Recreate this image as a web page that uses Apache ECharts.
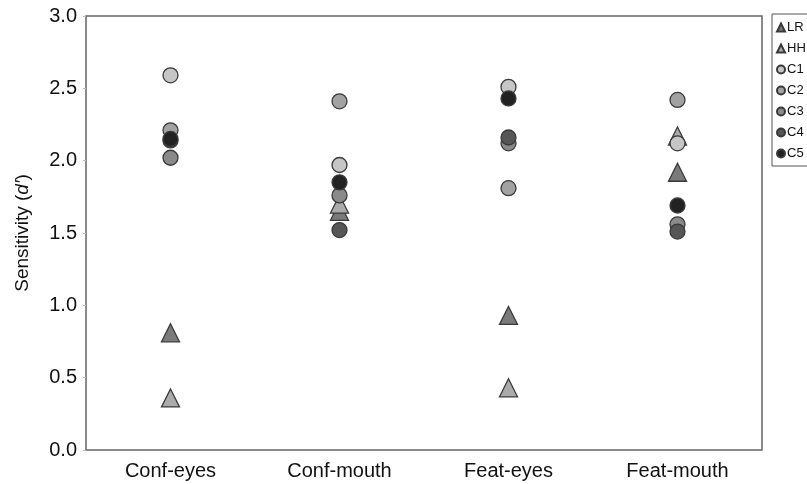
<!DOCTYPE html>
<html><head><meta charset="utf-8">
<script src="https://cdn.jsdelivr.net/npm/echarts@6/dist/echarts.min.js"></script>
<style>html,body{margin:0;padding:0;background:#fff}#c{width:807px;height:484px}</style>
</head><body><div id="c"></div>
<script>
const categories = ['Conf-eyes', 'Conf-mouth', 'Feat-eyes', 'Feat-mouth'];
const yTicks = [0, 0.5, 1.0, 1.5, 2.0, 2.5, 3.0];
const LR = [0.81, 1.65, 0.93, 1.92];
const HH = [0.36, 1.70, 0.43, 2.17];
const C1 = [2.59, 1.97, 2.51, 2.12];
const C2 = [2.21, 2.41, 1.81, 2.42];
const C3 = [2.02, 1.76, 2.12, 1.56];
const C4 = [2.14, 1.52, 2.16, 1.51];
const C5 = [2.15, 1.85, 2.43, 1.69];

const seriesDefs = [
  {name: 'LR', data: LR, symbol: 'triangle', size: 18, color: '#7a7a7a'},
  {name: 'HH', data: HH, symbol: 'triangle', size: 18, color: '#ababab'},
  {name: 'C1', data: C1, symbol: 'circle', size: 15, color: '#c6c6c6'},
  {name: 'C2', data: C2, symbol: 'circle', size: 15, color: '#a2a2a2'},
  {name: 'C3', data: C3, symbol: 'circle', size: 15, color: '#8a8a8a'},
  {name: 'C4', data: C4, symbol: 'circle', size: 15, color: '#565656'},
  {name: 'C5', data: C5, symbol: 'circle', size: 15, color: '#222222'}
];

const FONT = 'Liberation Sans, Arial, Helvetica';
const chart = echarts.init(document.getElementById('c'));
chart.setOption({
  animation: false,
  backgroundColor: '#fff',
  grid: {left: 86, right: 45, top: 16, bottom: 34, show: true, borderColor: '#666', borderWidth: 1.5, backgroundColor: 'transparent'},
  legend: {
    orient: 'vertical', left: 772, top: 14,
    borderColor: '#555', borderWidth: 1, padding: [7, 3, 6, 4],
    itemWidth: 8, itemHeight: 8, itemGap: 8,
    textStyle: {fontFamily: FONT, fontSize: 13, color: '#111', padding: [0, 0, 0, -3]},
    data: seriesDefs.map(s => ({name: s.name, icon: s.symbol}))
  },
  xAxis: {
    type: 'category', data: categories, boundaryGap: true,
    axisLine: {show: false}, axisTick: {show: false}, splitLine: {show: false},
    axisLabel: {fontFamily: FONT, fontSize: 20, color: '#111', margin: 11}
  },
  yAxis: {
    type: 'value', min: 0, max: 3, interval: 0.5,
    name: 'Sensitivity ({i|d′})', nameLocation: 'middle', nameGap: 54,
    nameTextStyle: {fontFamily: FONT, fontSize: 19, color: '#111',
      rich: {i: {fontStyle: 'italic', fontFamily: FONT, fontSize: 19, color: '#111'}}},
    axisLine: {show: false},
    axisTick: {show: true, length: 3, lineStyle: {color: '#bbb'}},
    splitLine: {show: false},
    axisLabel: {fontFamily: FONT, fontSize: 20, color: '#111', margin: 9,
      formatter: v => yTicks.includes(v) ? v.toFixed(1) : ''}
  },
  series: seriesDefs.map(s => ({
    name: s.name, type: 'scatter', data: s.data,
    symbol: s.symbol, symbolSize: s.size,
    itemStyle: {color: s.color, borderColor: '#3a3a3a', borderWidth: 1.3, opacity: 1}
  }))
});
</script></body></html>
